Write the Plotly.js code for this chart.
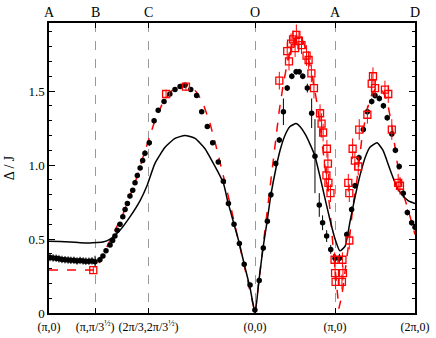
<!DOCTYPE html>
<html>
<head>
<meta charset="utf-8">
<script src="https://cdn.plot.ly/plotly-3.0.1.min.js"></script>
<style>
  html, body { margin: 0; padding: 0; background: #fff; }
  #chart { width: 436px; height: 338px; }
</style>
</head>
<body>
<div id="chart"></div>
<script>
'use strict'
/* Path positions of the symmetry points A-B-C-O-A-D (path length along the cut) */
var symPos = [0, 1.814, 3.908, 8.097, 11.239, 14.381];
var symTop = ["A", "B", "C", "O", "A", "D"];
var symBottom = ["(π,0)", "(π,π/3<sup>½</sup>)", "(2π/3,2π/3<sup>½</sup>)", "(0,0)", "(π,0)", "(2π,0)"];

/* Solid black theory curve */
var solidX = [0, 0.43, 0.83, 1.22, 1.61, 1.89, 2.12, 2.40, 2.79, 3.18, 3.58, 3.85, 4.16, 4.56, 4.95, 5.34, 5.74, 6.13, 6.43, 6.65, 6.85, 7.03, 7.27, 7.48, 7.67, 7.90, 8.097,
              8.25, 8.41, 8.57, 8.72, 8.92, 9.08, 9.27, 9.47, 9.71, 9.86, 10.06, 10.26, 10.45, 10.65, 10.77, 11.04, 11.24, 11.43, 11.63, 11.83, 12.02, 12.22, 12.42, 12.61, 12.89, 13.12, 13.40, 13.67, 13.87, 14.11, 14.381];
var solidY = [0.485, 0.483, 0.48, 0.475, 0.473, 0.476, 0.48, 0.50, 0.56, 0.65, 0.76, 0.86, 1.01, 1.12, 1.18, 1.20, 1.18, 1.11, 1.02, 0.95, 0.88, 0.75, 0.60, 0.47, 0.33, 0.17, 0.0,
              0.22, 0.44, 0.62, 0.80, 0.98, 1.10, 1.20, 1.26, 1.28, 1.26, 1.21, 1.14, 1.06, 0.92, 0.83, 0.63, 0.50, 0.42, 0.45, 0.62, 0.78, 0.93, 1.05, 1.12, 1.15, 1.10, 0.97, 0.85, 0.80, 0.76, 0.74];

/* Red dashed theory curve */
var dashX = [0, 1.814, 2.00, 2.20, 2.40, 2.67, 2.91, 3.18, 3.46, 3.69, 3.89, 4.16, 4.44, 4.75, 5.07, 5.34, 5.62, 5.85, 6.09, 6.33, 6.56, 6.80, 7.03, 7.27, 7.50, 7.74, 7.94, 8.097,
             8.25, 8.41, 8.57, 8.72, 8.88, 9.04, 9.19, 9.35, 9.51, 9.67, 9.78, 9.90, 10.06, 10.22, 10.37, 10.53, 10.65, 10.77, 10.92, 11.04, 11.16, 11.28, 11.39,
             11.51, 11.63, 11.83, 11.94, 12.10, 12.30, 12.49, 12.69, 12.89, 13.08, 13.28, 13.48, 13.67, 13.87, 14.11, 14.381];
var dashY = [0.29, 0.29, 0.35, 0.42, 0.49, 0.58, 0.67, 0.79, 0.92, 1.05, 1.16, 1.30, 1.41, 1.49, 1.54, 1.55, 1.53, 1.48, 1.40, 1.28, 1.13, 0.97, 0.80, 0.62, 0.45, 0.27, 0.12, 0.0,
             0.22, 0.45, 0.68, 0.92, 1.15, 1.36, 1.53, 1.68, 1.79, 1.86, 1.88, 1.87, 1.80, 1.70, 1.57, 1.42, 1.27, 1.10, 0.88, 0.70, 0.45, 0.22, 0.03,
             0.12, 0.27, 0.54, 0.72, 0.90, 1.19, 1.37, 1.48, 1.53, 1.51, 1.44, 1.26, 1.03, 0.83, 0.70, 0.53];

/* Black filled circles (data set 1) */
var dotX = [0.04, 0.16, 0.28, 0.39, 0.51, 0.63, 0.75, 0.86, 0.98, 1.10, 1.22, 1.34, 1.45, 1.57, 1.69, 1.81,
            2.00, 2.12, 2.24, 2.40, 2.50, 2.59, 2.68, 2.79, 2.90, 2.99, 3.08, 3.18, 3.29, 3.38, 3.47, 3.58, 3.68, 3.77, 3.94, 4.13, 4.29, 4.52, 4.75, 4.95, 5.15, 5.34, 5.57, 5.80, 6.00, 6.22, 6.43, 6.65, 6.85, 7.05, 7.27, 7.48, 7.67, 7.90, 8.09,
            8.26, 8.42, 8.58, 8.72, 8.91, 9.05, 9.21, 9.36, 9.54, 9.71, 9.83, 9.97, 10.15, 10.32, 10.45, 10.62, 10.75, 10.91, 11.07, 11.24, 11.41,
            11.70, 11.89, 12.02, 12.18, 12.35, 12.51, 12.68, 12.81, 12.98, 13.14, 13.29, 13.47, 13.61, 13.76, 13.92, 14.08, 14.25, 14.38];
var dotY = [0.375, 0.372, 0.37, 0.366, 0.362, 0.36, 0.358, 0.356, 0.356, 0.352, 0.355, 0.352, 0.35, 0.35, 0.352, 0.347,
            0.36, 0.385, 0.42, 0.46, 0.49, 0.52, 0.56, 0.60, 0.65, 0.70, 0.74, 0.79, 0.83, 0.88, 0.93, 0.98, 1.03, 1.08, 1.15, 1.30, 1.37, 1.43, 1.48, 1.51, 1.53, 1.54, 1.51, 1.47, 1.36, 1.26, 1.15, 1.02, 0.89, 0.74, 0.60, 0.47, 0.33, 0.19, 0.02,
            0.22, 0.44, 0.62, 0.80, 1.01, 1.17, 1.36, 1.52, 1.60, 1.63, 1.63, 1.60, 1.52, 1.35, 1.06, 0.73, 0.61, 0.52, 0.43, 0.37, 0.37,
            0.53, 0.70, 0.86, 1.05, 1.24, 1.36, 1.43, 1.47, 1.45, 1.40, 1.32, 1.21, 1.10, 0.99, 0.81, 0.68, 0.61, 0.58];
var dotErr = [0.025, 0.025, 0.025, 0.025, 0.025, 0.025, 0.025, 0.025, 0.025, 0.025, 0.025, 0.025, 0.025, 0.025, 0.025, 0.04,
              0.02, 0.015, 0.015, 0.015, 0.015, 0.015, 0.015, 0.015, 0.015, 0.015, 0.015, 0.015, 0.015, 0.015, 0.015, 0.015, 0.015, 0.02, 0.02, 0.015, 0.015, 0.015, 0.015, 0.015, 0.015, 0.015, 0.015, 0.015, 0.015, 0.015, 0.015, 0.015, 0.015, 0.015, 0.015, 0.015, 0.015, 0.015, 0.015,
              0.02, 0.02, 0.02, 0.02, 0.02, 0.02, 0.09, 0.02, 0.02, 0.02, 0.02, 0.02, 0.03, 0.1, 0.25, 0.08, 0.05, 0.04, 0.03, 0.03, 0.03,
              0.02, 0.02, 0.02, 0.02, 0.02, 0.02, 0.02, 0.02, 0.02, 0.02, 0.02, 0.02, 0.02, 0.02, 0.03, 0.02, 0.02, 0.02];

/* Red open squares (data set 2) */
var sqX = [1.74, 4.60, 5.38,
           9.05, 9.36, 9.43, 9.51, 9.59, 9.67, 9.72, 9.82, 9.92, 10.12, 10.20, 10.31, 10.41, 10.65, 10.71, 10.77, 10.92, 10.96, 10.90, 10.98, 11.06,
           11.22, 11.53, 11.24, 11.55, 11.26, 11.51,
           11.76, 11.80, 11.80, 11.93, 12.02, 12.15, 12.19, 12.51, 12.68, 12.73, 12.81, 13.20, 13.33, 13.47, 13.72, 13.79];
var sqY = [0.29, 1.48, 1.53,
           1.57, 1.77, 1.70, 1.82, 1.85, 1.79, 1.88, 1.84, 1.81, 1.74, 1.71, 1.62, 1.52, 1.35, 1.28, 1.22, 1.11, 1.01, 0.93, 0.88, 0.81,
           0.36, 0.36, 0.27, 0.27, 0.21, 0.21,
           0.88, 0.81, 0.49, 1.11, 1.03, 0.99, 1.24, 1.34, 1.55, 1.60, 1.52, 1.51, 1.48, 1.24, 0.88, 0.86];
var sqErr = [0.02, 0.03, 0.03,
             0.06, 0.06, 0.06, 0.07, 0.06, 0.06, 0.07, 0.06, 0.06, 0.07, 0.06, 0.06, 0.07, 0.06, 0.07, 0.06, 0.06, 0.07, 0.06, 0.06, 0.06,
             0.05, 0.05, 0.05, 0.05, 0.05, 0.05,
             0.06, 0.06, 0.06, 0.07, 0.06, 0.06, 0.07, 0.06, 0.07, 0.06, 0.06, 0.06, 0.06, 0.07, 0.06, 0.06];

var serif = "'Liberation Serif', 'Times New Roman', Times, serif";

var dashed = {
    type: "scatter", mode: "lines", x: dashX, y: dashY,
    line: {color: "#ff0000", width: 1.5, dash: "dash"},
    hoverinfo: "skip", showlegend: false
};
var solid = {
    type: "scatter", mode: "lines", x: solidX, y: solidY,
    line: {color: "#000000", width: 1.5, shape: "spline", smoothing: 0.5},
    hoverinfo: "skip", showlegend: false
};
var dots = {
    type: "scatter", mode: "markers", x: dotX, y: dotY,
    marker: {color: "#000000", size: 5.5, symbol: "circle"},
    error_y: {type: "data", array: dotErr, visible: true, color: "#000000", thickness: 1, width: 0},
    showlegend: false
};
var squares = {
    type: "scatter", mode: "markers", x: sqX, y: sqY,
    marker: {color: "#ff0000", size: 7, symbol: "square-open", line: {color: "#ff0000", width: 1.3}},
    error_y: {type: "data", array: sqErr, visible: true, color: "#ff0000", thickness: 1, width: 0},
    showlegend: false
};

/* Letters above the frame */
var topLabels = [];
for (var i = 0; i < symPos.length; i++) {
    topLabels.push({
        x: symPos[i], y: 1, xref: "x", yref: "paper",
        yanchor: "bottom", yshift: 1, showarrow: false,
        text: symTop[i], font: {family: serif, size: 14, color: "#000"}
    });
}

var layout = {
    width: 436,
    height: 338,
    margin: {l: 49, r: 21, t: 23, b: 25, pad: 0},
    paper_bgcolor: "#fff",
    plot_bgcolor: "#fff",
    font: {family: serif, size: 13, color: "#000"},
    xaxis: {
        range: [0, 14.381],
        tickmode: "array", tickvals: symPos, ticktext: symBottom,
        tickangle: 0, ticklabelstandoff: 2,
        ticks: "inside", ticklen: 5, tickwidth: 1, tickcolor: "#000",
        showline: true, linecolor: "#000", linewidth: 1.6, mirror: "ticks",
        showgrid: true, gridcolor: "#808080", gridwidth: 0.8, griddash: "dash",
        zeroline: false,
        tickfont: {family: serif, size: 12}
    },
    yaxis: {
        range: [0, 1.96],
        tickmode: "array", tickvals: [0, 0.5, 1.0, 1.5], ticktext: ["0", "0.5", "1.0", "1.5"],
        ticks: "inside", ticklen: 6, tickwidth: 1, tickcolor: "#000",
        minor: {tickmode: "linear", tick0: 0, dtick: 0.1, ticks: "inside", ticklen: 3, tickcolor: "#000", showgrid: false},
        showline: true, linecolor: "#000", linewidth: 1.6, mirror: "ticks",
        showgrid: false, zeroline: false,
        tickfont: {family: serif, size: 13},
        title: {text: "Δ / J", font: {family: serif, size: 14}, standoff: 10}
    },
    annotations: topLabels
};

Plotly.newPlot("chart", [dashed, solid, dots, squares], layout, {displayModeBar: false, staticPlot: true});
</script>
</body>
</html>
